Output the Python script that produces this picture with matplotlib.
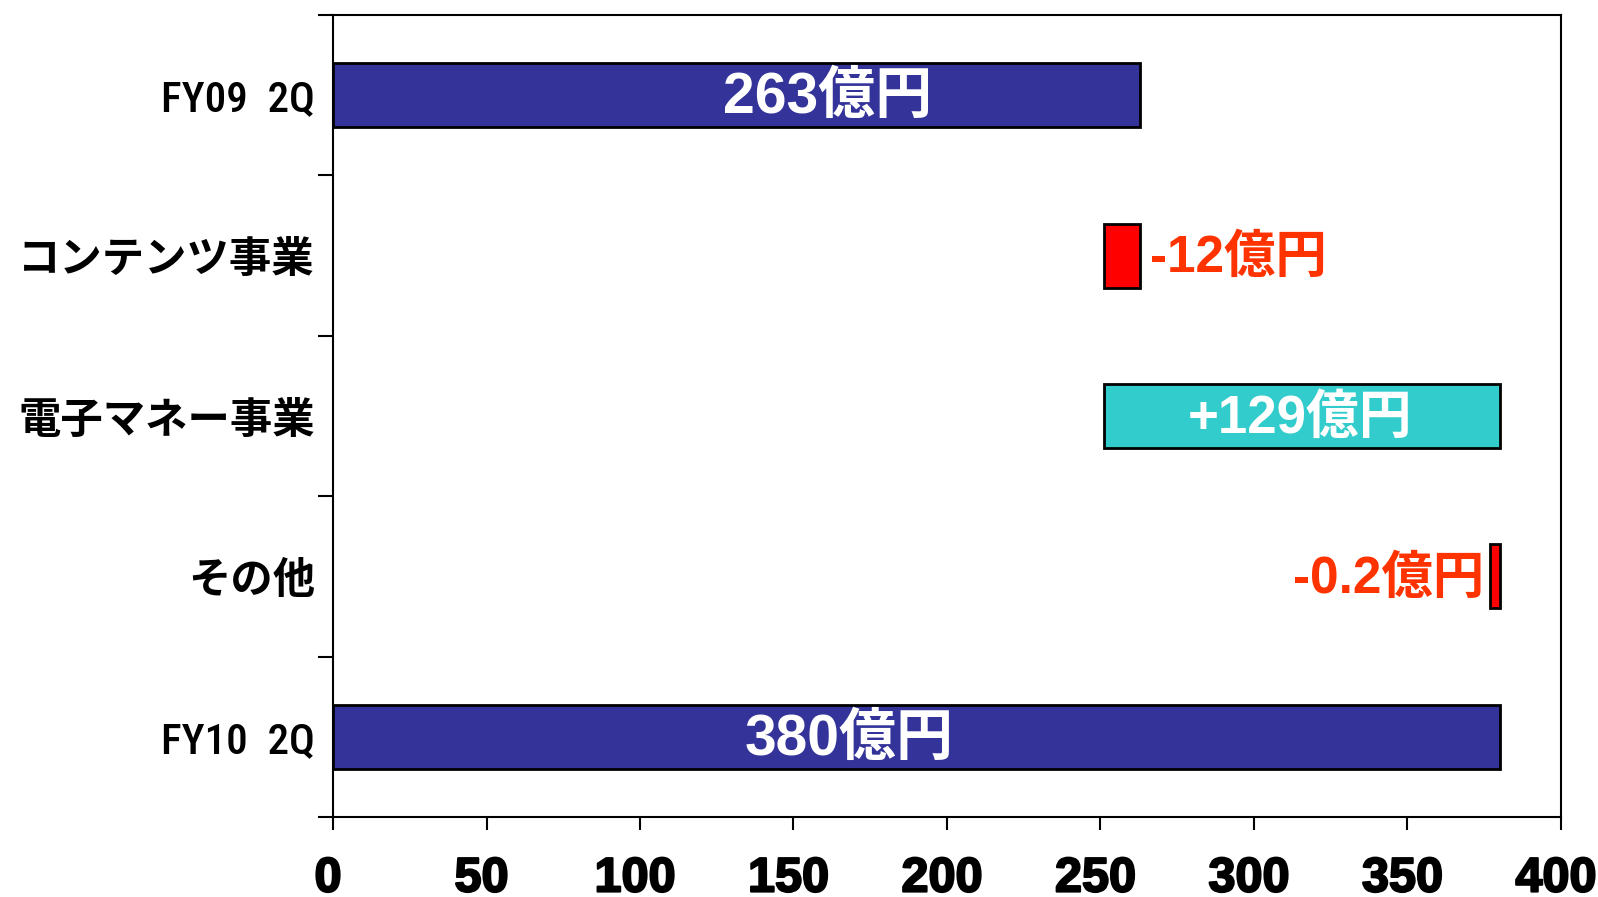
import matplotlib
matplotlib.use('Agg')
import matplotlib.pyplot as plt
import matplotlib.patheffects as pe
from matplotlib.transforms import ScaledTranslation
import numpy as np

# データ (億円)
categories = ['FY09  2Q', 'コンテンツ事業', '電子マネー事業', 'その他', 'FY10  2Q']
starts = [0, 251, 251, 377, 0]
widths = [263, 12, 129, 3, 380]
bar_colors = ['#333399', '#FF0000', '#33CCCC', '#FF0000', '#333399']
value_labels = ['263億円', '-12億円', '+129億円', '-0.2億円', '380億円']
label_x = [161, 266, 315, 375, 168]
label_ha = ['center', 'left', 'center', 'right', 'center']
label_colors = ['white', '#FF3300', 'white', '#FF3300', 'white']
label_sizes = [41, 37, 38, 37, 41]
xticks = [0, 50, 100, 150, 200, 250, 300, 350, 400]

num_font = ['Liberation Sans', 'Noto Sans CJK JP', 'DejaVu Sans']
jp_font = ['Noto Sans CJK JP', 'DejaVu Sans']

fig = plt.figure(figsize=(15.98, 8.97), dpi=100)
ax = fig.add_axes([0.2084, 0.0892, 0.7684, 0.8941])

y = np.arange(len(categories))
ax.barh(y, widths, left=starts, height=0.4, color=bar_colors,
        edgecolor='black', linewidth=2)

# 値ラベル (少し下へずらす)
down = ScaledTranslation(0, -3 / 100, fig.dpi_scale_trans)
for i in range(len(categories)):
    ax.text(label_x[i], y[i], value_labels[i], ha=label_ha[i], va='center',
            color=label_colors[i], fontsize=label_sizes[i], fontweight='bold',
            family=num_font, transform=ax.transData + down)

ax.set_xlim(0, 400)
ax.set_ylim(len(categories) - 0.5, -0.5)

# x軸
ax.set_xticks(xticks)
ax.set_xticklabels([str(t) for t in xticks], fontsize=35, fontweight='bold',
                   family=num_font)
ax.tick_params(axis='x', direction='out', length=9.5, width=1.5, pad=19)
shift = ScaledTranslation(-5 / 100, 0, fig.dpi_scale_trans)
for lbl in ax.get_xticklabels():
    lbl.set_transform(lbl.get_transform() + shift)
    lbl.set_path_effects([pe.withStroke(linewidth=1.5, foreground='black')])

# y軸: ラベルは中央、目盛りは境界
ax.set_yticks(y)
ax.set_yticklabels(categories)
ax.tick_params(axis='y', which='major', length=0, pad=13)
ax.set_yticks(np.arange(len(categories) + 1) - 0.5, minor=True)
ax.tick_params(axis='y', which='minor', direction='out', length=11, width=1.5)

for lbl, cat in zip(ax.get_yticklabels(), categories):
    if cat.startswith('FY'):
        lbl.set_family(['Roboto Condensed', 'DejaVu Sans'])
        lbl.set_fontweight('medium')
        lbl.set_fontsize(31)
    else:
        lbl.set_family(jp_font)
        lbl.set_fontsize(30.5)
        lbl.set_fontweight('bold')

for s in ax.spines.values():
    s.set_linewidth(1.5)
    s.set_color('black')

fig.savefig('out.png', dpi=100)
